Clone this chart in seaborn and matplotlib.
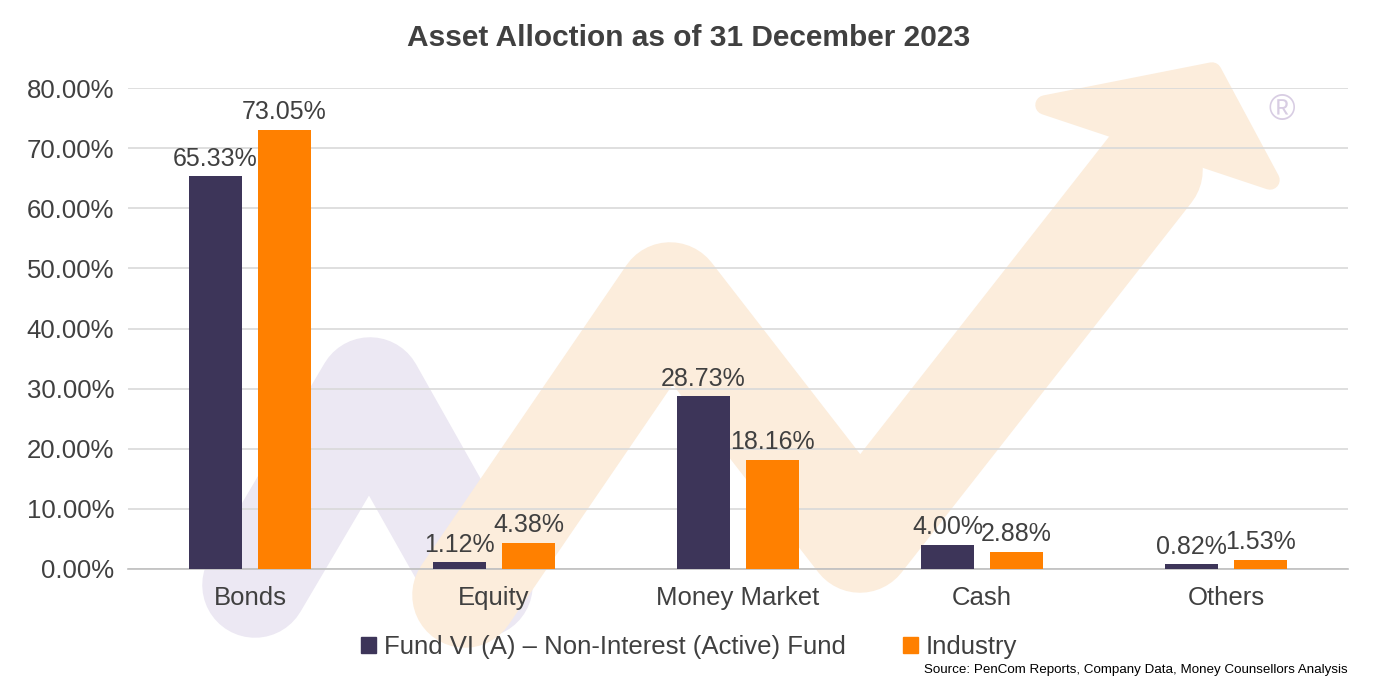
import numpy as np
import pandas as pd
import matplotlib
matplotlib.use("Agg")
import matplotlib.pyplot as plt
from matplotlib.patches import Polygon
from matplotlib.ticker import PercentFormatter
import seaborn as sns

# chart data
categories = ["Bonds", "Equity", "Money Market", "Cash", "Others"]
fund_vals = [65.33, 1.12, 28.73, 4.00, 0.82]
industry_vals = [73.05, 4.38, 18.16, 2.88, 1.53]
series_names = ["Fund VI (A) \u2013 Non-Interest (Active) Fund", "Industry"]
bar_colors = ["#3D3559", "#FF8000"]

df = pd.DataFrame({
    "category": categories * 2,
    "value": fund_vals + industry_vals,
    "series": [series_names[0]] * 5 + [series_names[1]] * 5,
})

sns.set_style("white")
plt.rcParams["font.family"] = ["Liberation Sans", "DejaVu Sans"]
txt = "#404040"

W, H = 1378, 690
fig = plt.figure(figsize=(W / 100, H / 100), dpi=100)
ax = fig.add_axes([128 / W, (H - 569) / H, 1220 / W, 481 / H])
ax.set_facecolor("none")

# faint decorative arrows behind the chart (figure pixel coords)
def px(pts):
    return [(x / W, (H - y) / H) for x, y in pts]

purple = px([(255, 585), (370, 390), (480, 585)])
fig.lines.append(plt.Line2D([p[0] for p in purple], [p[1] for p in purple],
                            transform=fig.transFigure, color="#ECE8F3",
                            lw=76, solid_capstyle="round", solid_joinstyle="round",
                            zorder=-2))
orange = px([(465, 595), (670, 295), (860, 540), (1150, 170)])
fig.lines.append(plt.Line2D([p[0] for p in orange], [p[1] for p in orange],
                            transform=fig.transFigure, color="#FCEDDC",
                            lw=76, solid_capstyle="round", solid_joinstyle="round",
                            zorder=-2))
fig.patches.append(Polygon(px([(1045, 105), (1212, 72), (1270, 180)]),
                           closed=True, transform=fig.transFigure,
                           facecolor="#FCEDDC", edgecolor="#FCEDDC",
                           lw=14, joinstyle="round", zorder=-2))
fig.text(1282 / W, (H - 110) / H, "\u00ae", color="#D8CDE3", fontsize=26,
         ha="center", va="center", zorder=-1)

sns.barplot(data=df, x="category", y="value", hue="series",
            palette=bar_colors, width=0.566, gap=0.22, ax=ax,
            saturation=1, legend=False, zorder=3, linewidth=0)

for cont in ax.containers:
    ax.bar_label(cont, fmt="%.2f%%", padding=4, fontsize=18, color=txt)

ax.set_ylim(0, 80)
ax.set_xlim(-0.5, 4.5)
ax.set_yticks(np.arange(0, 81, 10))
ax.yaxis.set_major_formatter(PercentFormatter(decimals=2))
ax.grid(axis="y", color="#D9D9D9", lw=1.2, zorder=0)
ax.set_axisbelow(True)
for s in ["top", "right", "left"]:
    ax.spines[s].set_visible(False)
ax.spines["bottom"].set_color("#BFBFBF")
ax.spines["bottom"].set_linewidth(1.2)
ax.tick_params(axis="both", length=0, labelsize=18.5, labelcolor=txt)
ax.tick_params(axis="x", pad=12)
ax.tick_params(axis="y", pad=10)
ax.set_xlabel("")
ax.set_ylabel("")

fig.text(0.5, (H - 38) / H, "Asset Alloction as of 31 December 2023",
         ha="center", va="center", fontsize=21.5, fontweight="bold", color=txt)

handles = [plt.Rectangle((0, 0), 1, 1, color=c) for c in bar_colors]
fig.legend(handles, series_names, loc="center", bbox_to_anchor=(0.5, (H - 647) / H),
           ncol=2, frameon=False, fontsize=18.5, labelcolor=txt,
           handlelength=0.6, handleheight=0.6, handletextpad=0.3, columnspacing=2.2)

fig.text(1348 / W, (H - 670) / H,
         "Source: PenCom Reports, Company Data, Money Counsellors Analysis",
         ha="right", va="center", fontsize=9.6, color="#000000",
         family=["Liberation Sans Narrow", "Liberation Sans", "DejaVu Sans"])

fig.savefig("out.png", dpi=100)
